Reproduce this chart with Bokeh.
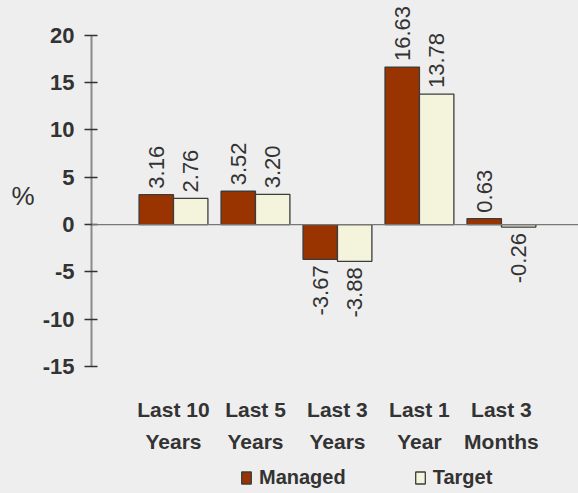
from bokeh.plotting import figure
from bokeh.layouts import column
from bokeh.models import (ColumnDataSource, Range1d, FixedTicker, Span, Legend,
                          LegendItem, LinearAxis)
from bokeh.core.properties import value
from bokeh.embed import file_html
from bokeh.resources import INLINE
import math

# Returns by period (%)
periods = ["Last 10\nYears", "Last 5\nYears", "Last 3\nYears", "Last 1\nYear", "Last 3\nMonths"]
managed = [3.16, 3.52, -3.67, 16.63, 0.63]
target = [2.76, 3.20, -3.88, 13.78, -0.26]
y_ticks = [-15, -10, -5, 0, 5, 10, 15, 20]
series_names = ["Managed", "Target"]

MANAGED_COLOR = "#993300"
TARGET_COLOR = "#F4F4DC"
EDGE = "#3c3c3c"
TEXT = "#333333"
BG = "#EEEEEE"
FONT = "Liberation Sans"

bar_w = 0.42
xs = list(range(len(periods)))


def series_source(vals, shift):
    return ColumnDataSource(dict(
        x=[i + shift for i in xs],
        top=vals,
        label=["%.2f" % v for v in vals],
        align=["left" if v >= 0 else "right" for v in vals],
        yoff=[-6 if v >= 0 else 6 for v in vals],
    ))


src_m = series_source(managed, -bar_w / 2)
src_t = series_source(target, bar_w / 2)

p = figure(width=578, height=455, output_backend="svg", toolbar_location=None,
           x_range=Range1d(-1.0, 4.94), y_range=Range1d(-17.62, 23.66),
           min_border_left=91, min_border_right=0, min_border_top=0,
           min_border_bottom=61, x_axis_location=None, y_axis_location=None,
           styles={"background-color": BG})
p.background_fill_color = BG
p.border_fill_color = BG
p.outline_line_color = None
p.grid.visible = False

# zero reference line
p.add_layout(Span(location=0, dimension="width", line_color="#777777", line_width=1.2))

bar_style = dict(bottom=0, width=bar_w, line_color=EDGE, line_width=1.3)
r_m = p.vbar(x="x", top="top", source=src_m, fill_color=MANAGED_COLOR, **bar_style)
r_t = p.vbar(x="x", top="top", source=src_t, fill_color=TARGET_COLOR, **bar_style)

# rotated value labels
for src in (src_m, src_t):
    p.text(x="x", y="top", text="label", source=src, angle=math.pi / 2,
           text_align="align", text_baseline="middle", y_offset="yoff",
           text_font=value(FONT), text_font_size="22px", text_color=TEXT)

# value axis
yax = LinearAxis(ticker=FixedTicker(ticks=y_ticks), bounds=(-15, 20),
                 major_label_overrides={t: str(t) for t in y_ticks})
yax.axis_line_color = "#8a8a8a"
yax.axis_line_width = 2
yax.major_tick_line_color = "#333333"
yax.major_tick_line_width = 1.3
yax.major_tick_in = 6
yax.major_tick_out = 7
yax.minor_tick_line_color = None
yax.major_label_standoff = 10
yax.major_label_text_font = FONT
yax.major_label_text_font_style = "bold"
yax.major_label_text_font_size = "22px"
yax.major_label_text_color = TEXT
yax.axis_label = "%"
yax.axis_label_orientation = "horizontal"
yax.axis_label_standoff = 5
yax.axis_label_text_font = FONT
yax.axis_label_text_font_style = "normal"
yax.axis_label_text_font_size = "26px"
yax.axis_label_text_color = TEXT
p.add_layout(yax, "left")

# period axis
xax = LinearAxis(ticker=FixedTicker(ticks=xs),
                 major_label_overrides={i: s for i, s in zip(xs, periods)})
xax.axis_line_color = None
xax.major_tick_line_color = None
xax.minor_tick_line_color = None
xax.major_label_standoff = 0
xax.major_label_text_font = FONT
xax.major_label_text_font_style = "bold"
xax.major_label_text_font_size = "21px"
xax.major_label_text_color = TEXT
xax.major_label_text_line_height = 1.4
p.add_layout(xax, "below")

# legend strip; its bars are hidden and only feed the legend swatches
leg = figure(width=578, height=38, output_backend="svg", toolbar_location=None,
             x_range=Range1d(-1.0, 4.94), y_range=Range1d(0, 1),
             min_border=0, x_axis_location=None, y_axis_location=None,
             styles={"background-color": BG})
leg.background_fill_color = BG
leg.border_fill_color = BG
leg.outline_line_color = None
leg.grid.visible = False
swatch_m = leg.vbar(x="x", top="top", source=src_m, fill_color=MANAGED_COLOR,
                    visible=False, **bar_style)
swatch_t = leg.vbar(x="x", top="top", source=src_t, fill_color=TARGET_COLOR,
                    visible=False, **bar_style)
legend = Legend(items=[LegendItem(label=series_names[0], renderers=[swatch_m]),
                       LegendItem(label=series_names[1], renderers=[swatch_t])],
                orientation="horizontal", location=(149, 4),
                glyph_width=12, glyph_height=15, label_standoff=7, spacing=68,
                label_text_font=FONT, label_text_font_style="bold",
                label_text_font_size="20px", label_text_color=TEXT,
                background_fill_alpha=0, border_line_color=None,
                inactive_fill_alpha=0, padding=0, margin=0)
leg.add_layout(legend)

layout = column(p, leg, spacing=0, styles={"background-color": BG})
open("out.html", "w").write(file_html(layout, INLINE))
